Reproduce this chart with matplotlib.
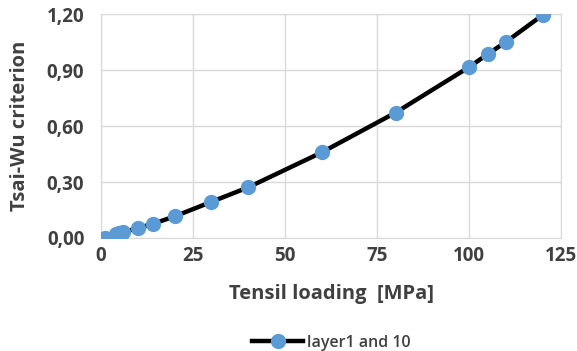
import numpy as np
import matplotlib
matplotlib.use("Agg")
import matplotlib.pyplot as plt
from matplotlib.ticker import FuncFormatter

# data
load = [1, 4, 5, 6, 10, 14, 20, 30, 40, 60, 80, 100, 105, 110, 120]
tsai_wu = [0.00, 0.02, 0.025, 0.03, 0.054, 0.075, 0.116, 0.194, 0.272,
           0.46, 0.673, 0.918, 0.987, 1.053, 1.198]
series_name = "layer1 and 10"

plt.rcParams['font.family'] = ['Open Sans', 'DejaVu Sans']
txt = '#404040'
grid = '#d9d9d9'

fig = plt.figure(figsize=(5.77, 3.51), dpi=100)
ax = fig.add_axes([0.175, 0.322, 0.798, 0.637])

ax.plot(load, tsai_wu, color='black', lw=3.2, marker='o', ms=10,
        mfc='#5b9bd5', mec='#5b9bd5', label=series_name, zorder=3)

ax.set_xlim(0, 125)
ax.set_ylim(0, 1.2)
ax.set_xticks([0, 25, 50, 75, 100, 125])
ax.set_yticks([0, 0.3, 0.6, 0.9, 1.2])
ax.yaxis.set_major_formatter(FuncFormatter(lambda v, p: f"{v:.2f}".replace('.', ',')))
ax.grid(True, color=grid, lw=1)
ax.set_axisbelow(True)
for s in ax.spines.values():
    s.set_color(grid)
ax.tick_params(length=0, labelsize=13.5, labelcolor=txt)
ax.tick_params(axis='y', pad=12)
ax.tick_params(axis='x', pad=6)
for lab in ax.get_xticklabels() + ax.get_yticklabels():
    lab.set_fontweight('bold')

ax.set_xlabel("Tensil loading  [MPa]", fontsize=14.5, color=txt,
              fontweight='bold', labelpad=13)
ax.set_ylabel("Tsai-Wu criterion", fontsize=14.5, color=txt,
              fontweight='bold', labelpad=12)

leg = ax.legend(loc='upper center', bbox_to_anchor=(0.5, -0.37), frameon=False,
                prop={'size': 11.5, 'weight': 'semibold'}, handlelength=3.2,
                handletextpad=0.2)
for t in leg.get_texts():
    t.set_color(txt)

fig.savefig("out.png", dpi=100)
